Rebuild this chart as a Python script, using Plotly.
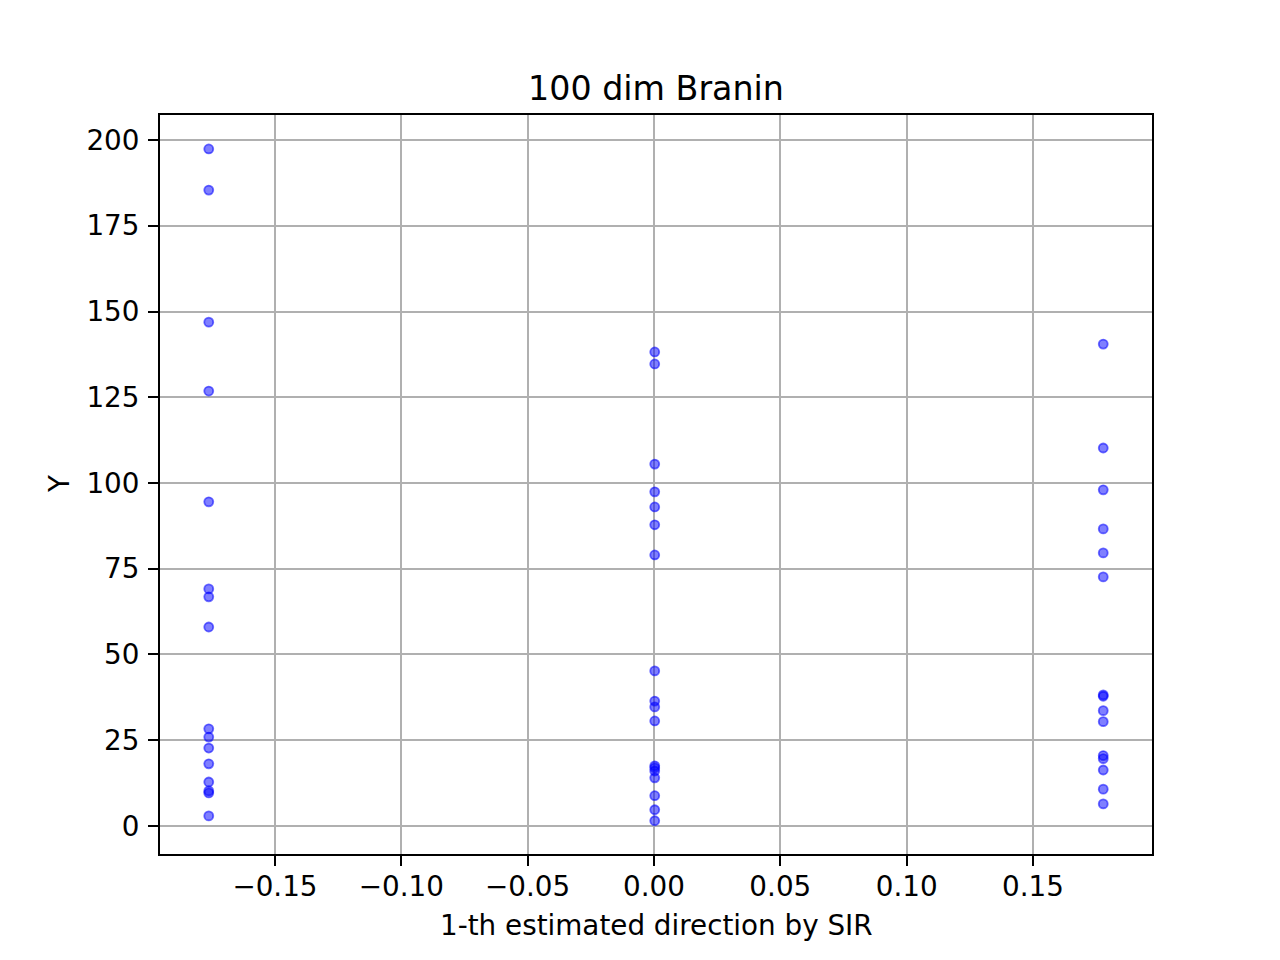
import plotly.graph_objects as go

# Data
x_left = -0.1762
x_mid = 0.0003
x_right = 0.1778

y_left = [197.4, 185.4, 146.9, 126.8, 94.5, 69.1, 66.8, 58.0, 28.3, 25.9,
          22.7, 18.1, 12.8, 10.2, 9.6, 2.9]
y_mid = [138.2, 134.7, 105.5, 97.4, 93.0, 87.8, 79.0, 45.2, 36.4, 34.7,
         30.6, 17.5, 16.9, 16.0, 14.0, 8.8, 4.7, 1.5]
y_right = [140.5, 110.2, 98.0, 86.6, 79.6, 72.6, 38.2, 37.8, 33.6, 30.4,
           20.5, 19.6, 16.3, 10.7, 6.4]

x_ticks = [-0.15, -0.10, -0.05, 0.00, 0.05, 0.10, 0.15]
y_ticks = [0, 25, 50, 75, 100, 125, 150, 175, 200]

xs = [x_left] * len(y_left) + [x_mid] * len(y_mid) + [x_right] * len(y_right)
ys = y_left + y_mid + y_right

FONT = "DejaVu Sans"

fig = go.Figure()
fig.add_trace(go.Scatter(
    x=xs, y=ys, mode="markers",
    marker=dict(size=9, color="rgba(0,0,255,0.5)",
                line=dict(color="rgba(0,0,255,0.55)", width=1.8)),
    showlegend=False,
))

axis_common = dict(
    showgrid=True, gridcolor="#b0b0b0", gridwidth=2,
    showline=True, linecolor="black", linewidth=2, mirror=True,
    ticks="outside", ticklen=10, tickwidth=2, tickcolor="black",
    zeroline=False,
    tickfont=dict(family=FONT, size=27.8, color="black"),
)

fig.update_xaxes(range=[-0.1955, 0.1971], tickvals=x_ticks, tickformat=".2f",
                 ticklabelstandoff=-3, **axis_common)
fig.update_yaxes(range=[-8.2, 207.3], tickvals=y_ticks,
                 ticklabelstandoff=3, **axis_common)

fig.update_layout(
    width=1280, height=960,
    margin=dict(l=160, r=128, t=115, b=106, autoexpand=False),
    paper_bgcolor="white", plot_bgcolor="white",
    font=dict(family=FONT, color="black"),
    title=dict(text="100 dim Branin", x=0.5, xanchor="center",
               xref="paper", yref="container", y=1 - 88 / 960,
               yanchor="middle", font=dict(family=FONT, size=33.3, color="black")),
    annotations=[
        dict(text="1-th estimated direction by SIR", xref="paper", yref="paper",
             x=0.5, y=(854 - 925) / 739, xanchor="center", yanchor="middle",
             showarrow=False, font=dict(family=FONT, size=27.8, color="black")),
        dict(text="Y", xref="paper", yref="paper", textangle=-90,
             x=(60 - 160) / 992, y=(854 - 484) / 739, xanchor="center",
             yanchor="middle", showarrow=False,
             font=dict(family=FONT, size=27.8, color="black")),
    ],
)

fig.write_html("out.html", post_script="document.body.style.margin='0';",
               config={"displayModeBar": False})
